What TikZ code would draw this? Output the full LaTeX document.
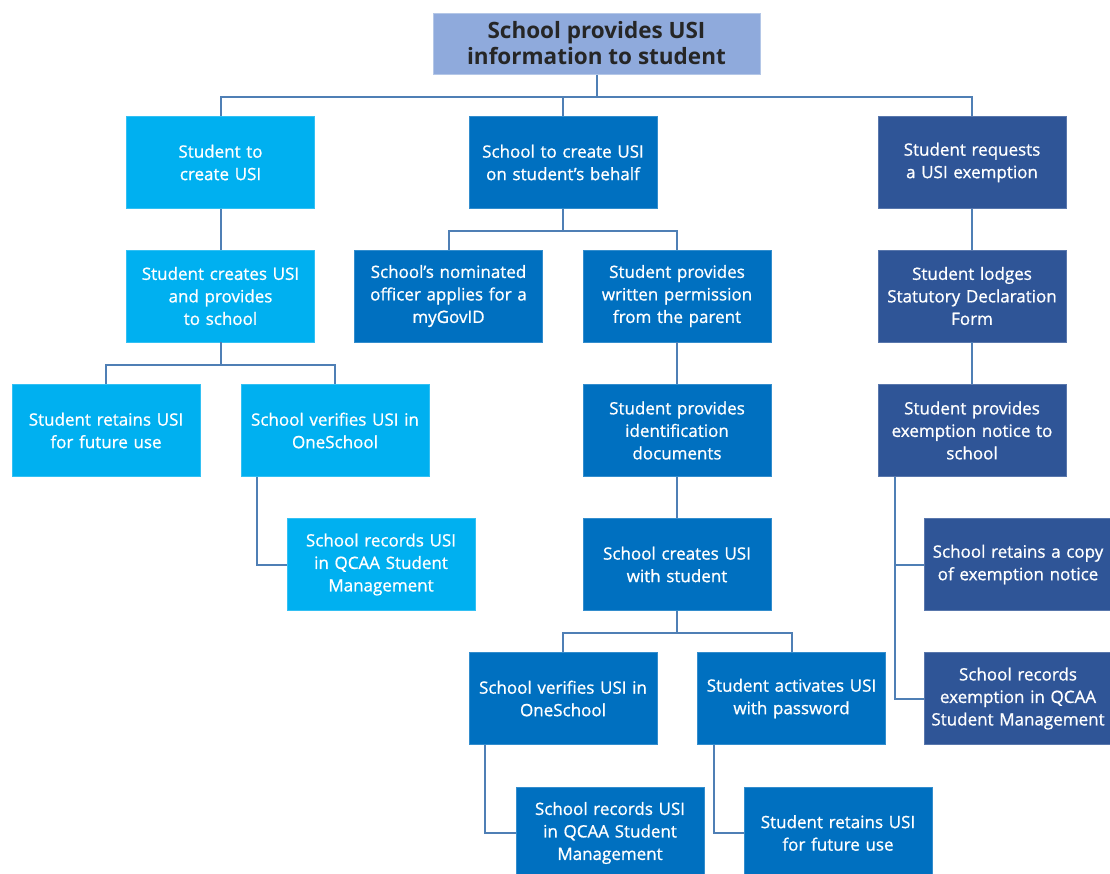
\documentclass[tikz,border=0pt]{standalone}
\usepackage{fontspec}
\setmainfont{Open Sans}
\newfontfamily\bodyf{Open Sans}[BoldFont={*},BoldFeatures={FakeBold=0.9}]
\definecolor{cA}{HTML}{00B0F0}
\definecolor{cB}{HTML}{0070C0}
\definecolor{cC}{HTML}{2F5597}
\definecolor{cTop}{HTML}{8FAADC}
\definecolor{cTopB}{HTML}{B4C7E7}
\definecolor{cLine}{HTML}{4F7FB5}
\begin{document}
\begin{tikzpicture}[x=1pt,y=-1pt,
  box/.style={minimum width=185pt,minimum height=92pt,inner sep=2pt,align=center,text=white,
     font=\bodyf\bfseries\fontsize{17}{22.5}\selectfont,text width=184pt},
  bA/.style={box,fill=cA,draw=cA!80!white,line width=0.6pt},
  bB/.style={box,fill=cB,draw=cB!80!white,line width=0.6pt},
  bC/.style={box,fill=cC,draw=cC!80!white,line width=0.6pt},
  conn/.style={draw=cLine,line width=2pt}]
\clip (0,0) rectangle (1110,873);
\fill[white] (0,0) rectangle (1110,873);
\node[fill=cTop,draw=cTopB,line width=1pt,minimum width=327pt,minimum height=61pt,align=center,
  text=black!85,font=\fontsize{22.5}{26}\selectfont\bfseries] (top) at (596.5,43.5)
  {School provides USI\\information to student};
\node[bA] (A) at (220.5,162.5) {Student to\\create USI};
\node[bB] (B) at (563,162.5) {School to create USI\\on student’s behalf};
\node[bC] (C) at (972,162.5) {Student requests\\a USI exemption};
\node[bA] (A2) at (220.5,296) {Student creates USI\\and provides\\to school};
\node[bB] (B2a) at (448.5,296) {School’s nominated\\officer applies for a\\myGovID};
\node[bB] (B2b) at (677,296) {Student provides\\written permission\\from the parent};
\node[bC] (C2) at (972,296) {Student lodges\\Statutory Declaration\\Form};
\node[bA] (A3a) at (106,430.5) {Student retains USI\\for future use};
\node[bA] (A3b) at (335,430.5) {School verifies USI in\\OneSchool};
\node[bB] (B3) at (677,430.5) {Student provides\\identification\\documents};
\node[bC] (C3) at (972,430.5) {Student provides\\exemption notice to\\school};
\node[bA] (A4) at (381,564.5) {School records USI\\in QCAA Student\\Management};
\node[bB] (B4) at (677,564.5) {School creates USI\\with student};
\node[bC] (C4a) at (1018,564.5) {School retains a copy\\of exemption notice};
\node[bB] (B5a) at (563,698.5) {School verifies USI in\\OneSchool};
\node[bB] (B5b) at (791.5,698.5) {Student activates USI\\with password};
\node[bC] (C5) at (1018,698.5) {School records\\exemption in QCAA\\Student Management};
\node[bB] (B6a) at (610,833) {School records USI\\in QCAA Student\\Management};
\node[bB] (B6b) at (838,833) {Student retains USI\\for future use};
% connectors
\draw[conn] (top.south) -- ++(0,22) coordinate (j0);
\draw[conn] (A.north) |- (j0) -| (C.north);
\draw[conn] (B.north) -- (B.north |- j0);
\draw[conn] (A.south) -- (A2.north);
\draw[conn] (C.south) -- (C2.north);
\draw[conn] (C2.south) -- (C3.north);
\draw[conn] (B.south) -- ++(0,22) coordinate (j1);
\draw[conn] (B2a.north) |- (j1) -| (B2b.north);
\draw[conn] (B2b.south) -- (B3.north);
\draw[conn] (B3.south) -- (B4.north);
\draw[conn] (A2.south) -- ++(0,23) coordinate (j2);
\draw[conn] (A3a.north) |- (j2) -| (A3b.north);
\draw[conn] (B4.south) -- ++(0,22) coordinate (j3);
\draw[conn] (B5a.north) |- (j3) -| (B5b.north);
\draw[conn] ([xshift=16pt]A3b.south west) |- (A4.west);
\draw[conn] ([xshift=16pt]B5a.south west) |- (B6a.west);
\draw[conn] ([xshift=17pt]B5b.south west) |- (B6b.west);
\draw[conn] ([xshift=17pt]C3.south west) |- (C5.west);
\draw[conn] ([xshift=17pt]C3.south west |- C4a.west) -- (C4a.west);
\end{tikzpicture}
\end{document}
